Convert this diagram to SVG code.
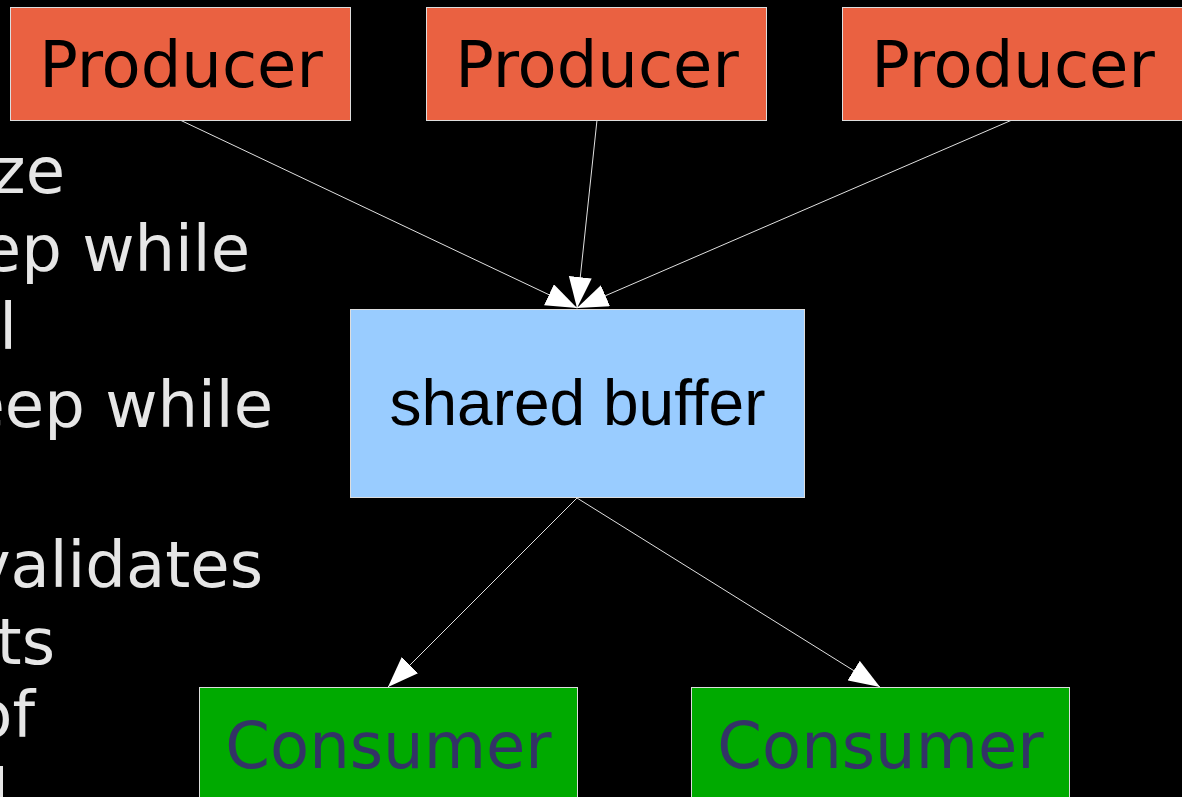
<svg xmlns="http://www.w3.org/2000/svg" width="1182" height="797" viewBox="0 0 1182 797">
<style>
.bg{fill:#000}
.box{stroke:#dddddd;stroke-width:1}
.prod{fill:#ea6141}
.buf{fill:#99ccff}
.cons{fill:#00aa00}
.lbl{font-family:"DejaVu Sans",sans-serif;font-size:64px;text-anchor:middle}
.buflbl{font-family:"Liberation Sans",Arial,sans-serif;font-size:64px;text-anchor:middle;fill:#000}
.side{font-family:"DejaVu Sans",sans-serif;font-size:64px;fill:#e6e6e6;text-anchor:end}
.conn{stroke:#e0e0e0;stroke-width:1;fill:none;marker-end:url(#arrow)}
</style>
<defs>
<marker id="arrow" markerUnits="userSpaceOnUse" markerWidth="32" markerHeight="24" refX="31" refY="11.5" orient="auto">
<path d="M0,0 L31,11.5 L0,23 z" fill="#ffffff"/>
</marker>
</defs>
<rect class="bg" x="0" y="0" width="1182" height="797"/>
<g id="side-text">
<text class="side" x="65" y="193">ze</text>
<text class="side" x="250" y="271">ep while</text>
<text class="side" x="17" y="349">l</text>
<text class="side" x="273" y="427">eep while</text>
<text class="side" x="263" y="587">validates</text>
<text class="side" x="55" y="664">ts</text>
<text class="side" x="35" y="737">of</text>
<text class="side" x="9" y="815">l</text>
</g>
<g id="connectors">
<line class="conn" x1="180" y1="120" x2="577" y2="308"/>
<line class="conn" x1="597" y1="120" x2="577" y2="308"/>
<line class="conn" x1="1012" y1="120" x2="577" y2="308"/>
<line class="conn" x1="577" y1="498" x2="388" y2="687"/>
<line class="conn" x1="577" y1="498" x2="880" y2="687"/>
</g>
<g id="producer1">
<rect class="box prod" x="10.5" y="7.5" width="340" height="113"/>
<text class="lbl" x="181" y="87" fill="#000">Producer</text>
</g>
<g id="producer2">
<rect class="box prod" x="426.5" y="7.5" width="340" height="113"/>
<text class="lbl" x="597" y="87" fill="#000">Producer</text>
</g>
<g id="producer3">
<rect class="box prod" x="842.5" y="7.5" width="341" height="113"/>
<text class="lbl" x="1013" y="87" fill="#000">Producer</text>
</g>
<g id="buffer">
<rect class="box buf" x="350.5" y="309.5" width="454" height="188"/>
<text class="buflbl" x="577.5" y="425">shared buffer</text>
</g>
<g id="consumer1">
<rect class="box cons" x="199.5" y="687.5" width="378" height="120"/>
<text class="lbl" x="388.5" y="768" fill="#333366">Consumer</text>
</g>
<g id="consumer2">
<rect class="box cons" x="691.5" y="687.5" width="378" height="120"/>
<text class="lbl" x="880.5" y="768" fill="#333366">Consumer</text>
</g>
</svg>
